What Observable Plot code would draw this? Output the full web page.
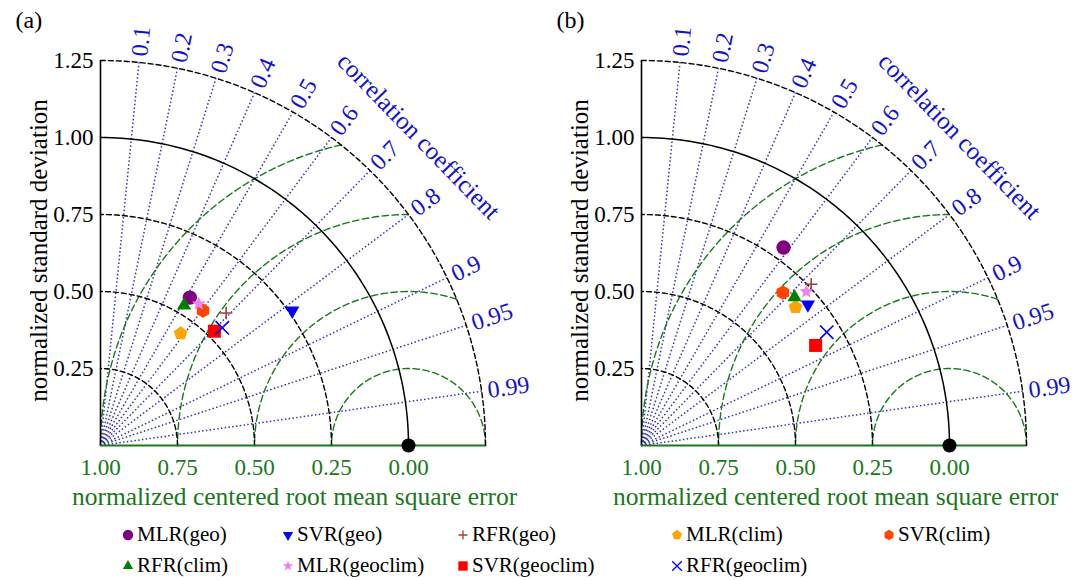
<!DOCTYPE html>
<html><head><meta charset="utf-8">
<script src="https://cdn.jsdelivr.net/npm/d3@7"></script>
<script src="https://cdn.jsdelivr.net/npm/@observablehq/plot@0.6"></script>
<style>
body{margin:0;background:#fff;width:1079px;height:580px;overflow:hidden;font-family:"Liberation Serif","Times New Roman",Times,"DejaVu Serif",serif;}
#panels{display:flex;}
#legend{display:grid;grid-template-columns:121px 160px 175px 214px 212px auto;grid-auto-rows:31px;padding-top:7px;font-size:21px;}
#legend div{display:flex;align-items:center;white-space:nowrap;}
#legend svg{margin-right:2px;}
svg text{font-family:"Liberation Serif","Times New Roman",Times,"DejaVu Serif",serif;}
</style></head><body>
<div id="panels"></div><div id="legend"></div>
<script>
// ---- data ----
const models = ["MLR(geo)","SVR(geo)","RFR(geo)","MLR(clim)","SVR(clim)","RFR(clim)","MLR(geoclim)","SVR(geoclim)","RFR(geoclim)"];
const stdA  = [0.561, 0.761, 0.593, 0.447, 0.550, 0.530, 0.560, 0.524, 0.550];
const corrA = [0.517, 0.818, 0.688, 0.582, 0.605, 0.512, 0.570, 0.706, 0.719];
const stdB  = [0.791, 0.708, 0.760, 0.672, 0.676, 0.692, 0.732, 0.652, 0.705];
const corrB = [0.583, 0.763, 0.725, 0.744, 0.679, 0.718, 0.731, 0.867, 0.853];
const stdTicks = [0.25, 0.50, 0.75, 1.00, 1.25];
const rmsLevels = [0.25, 0.50, 0.75, 1.00];
const rmsTickPos = [0, 0.25, 0.5, 0.75, 1.0];
const corrTicks = [0.1,0.2,0.3,0.4,0.5,0.6,0.7,0.8,0.9,0.95,0.99];

// ---- symbols ----
function poly(n, rot){ return {draw(ctx,size){const R=Math.sqrt(size/Math.PI); for(let i=0;i<n;i++){const a=rot+i*2*Math.PI/n; const x=R*Math.cos(a), y=R*Math.sin(a); if(i) ctx.lineTo(x,y); else ctx.moveTo(x,y);} ctx.closePath();}}; }
const S = {
  circle:{draw(ctx,size){const R=Math.sqrt(size/Math.PI); ctx.moveTo(R,0); ctx.arc(0,0,R,0,2*Math.PI);}},
  triUp: poly(3,-Math.PI/2),
  triDown: poly(3,Math.PI/2),
  pentagon: poly(5,-Math.PI/2),
  hexagon: poly(6,-Math.PI/2),
  square: poly(4,Math.PI/4),
  star:{draw(ctx,size){const R=Math.sqrt(size/Math.PI), r=R*0.45; for(let i=0;i<10;i++){const a=-Math.PI/2+i*Math.PI/5, rr=i%2?r:R; const x=rr*Math.cos(a), y=rr*Math.sin(a); if(i) ctx.lineTo(x,y); else ctx.moveTo(x,y);} ctx.closePath();}},
  plus:{draw(ctx,size){const R=Math.sqrt(size/Math.PI); ctx.moveTo(-R,0);ctx.lineTo(R,0);ctx.moveTo(0,-R);ctx.lineTo(0,R);}},
  times:{draw(ctx,size){const R=Math.sqrt(size/Math.PI); ctx.moveTo(-R,-R);ctx.lineTo(R,R);ctx.moveTo(-R,R);ctx.lineTo(R,-R);}}
};
const styles = [
  {sym:S.circle, r:7.2, color:"#800080", fill:true},
  {sym:S.triDown, r:8.2, color:"#0000ff", fill:true},
  {sym:S.plus, r:6.2, color:"#a0403a", fill:false},
  {sym:S.pentagon, r:7.2, color:"#ffa500", fill:true},
  {sym:S.hexagon, r:7.2, color:"#ff4500", fill:true},
  {sym:S.triUp, r:8.2, color:"#008000", fill:true},
  {sym:S.star, r:7.2, color:"#ee82ee", fill:true},
  {sym:S.square, r:9.2, color:"#ff0000", fill:true},
  {sym:S.times, r:6.7, color:"#0000ff", fill:false}
];

const FONT = '"Liberation Serif", "Times New Roman", Times, "DejaVu Serif", serif';
const GREEN = "#1a781a", BLUE = "#1212cc", DOTBLUE = "#3434b0";
const rad = Math.PI/180;

// grid geometry
const stdArcs = stdTicks.flatMap(s => d3.range(0, 90.5, 1).map(a => ({s, x:s*Math.cos(a*rad), y:s*Math.sin(a*rad)})));
const rmsArcs = rmsLevels.flatMap(r => {
  const c0 = Math.max(-1, Math.min(1, (1.5625 - 1 - r*r)/(2*r)));
  const t0 = Math.acos(c0);
  return d3.range(0, 201).map(k => { const t = t0 + (Math.PI - t0)*k/200; return {r, x:1 + r*Math.cos(t), y:r*Math.sin(t)}; });
});

function panel(label, std, corr, width){
  const pts = models.map((m,i)=>({m, i, x:std[i]*corr[i], y:std[i]*Math.sqrt(1-corr[i]*corr[i])}));
  const dotMarks = styles.map((st,i)=>Plot.dot(pts.filter(d=>d.i===i), {x:"x", y:"y", r:st.r, symbol:st.sym,
     fill: st.fill ? st.color : "none", stroke: st.color, strokeWidth: st.fill ? 0 : 1.6}));
  const ca = 44.2;
  return Plot.plot({
    width, height: 512, margin: 0,
    x:{domain:[0,1.25], range:[100,485], axis:null},
    y:{domain:[0,1.25], range:[445,60], axis:null},
    style:{fontFamily:FONT, background:"white", overflow:"visible"},
    marks:[
      Plot.link(corrTicks, {x1:0, y1:0, x2:c=>1.25*c, y2:c=>1.25*Math.sqrt(1-c*c), stroke:DOTBLUE, strokeWidth:1.5, strokeDasharray:"1.5,2.3"}),
      Plot.line(rmsArcs, {x:"x", y:"y", z:"r", stroke:GREEN, strokeWidth:1.4, strokeDasharray:"6.5,3.5"}),
      Plot.line(stdArcs.filter(d=>d.s!==1), {x:"x", y:"y", z:"s", stroke:"black", strokeWidth:1.4, strokeDasharray:"5,3"}),
      Plot.line(stdArcs.filter(d=>d.s===1), {x:"x", y:"y", stroke:"black", strokeWidth:1.5}),
      Plot.ruleX([0], {y1:0, y2:1.25, stroke:"black", strokeWidth:1.6}),
      Plot.ruleY([0], {x1:0, x2:1.25, stroke:GREEN, strokeWidth:1.8}),
      Plot.dot([1], {x:d=>d, y:0, r:7, fill:"black"}),
      Plot.text(stdTicks, {x:0, y:d=>d, text:d=>d.toFixed(2), textAnchor:"end", dx:-7, fontSize:23, fill:"black"}),
      Plot.text(rmsTickPos, {x:d=>d, y:0, text:d=>(1-d).toFixed(2), dy:22, fontSize:23, fill:GREEN}),
      Plot.text(corrTicks, {x:c=>1.27*c, y:c=>1.27*Math.sqrt(1-c*c), text:c=>String(c), rotate:c=>-Math.acos(c)/rad, textAnchor:"start", fontSize:24, fill:BLUE}),
      Plot.text(["correlation coefficient"], {x:1.44*Math.cos(ca*rad), y:1.44*Math.sin(ca*rad), rotate:90-ca, textAnchor:"middle", fontSize:25, fill:BLUE}),
      Plot.text(["normalized standard deviation"], {frameAnchor:"left", dx:38, dy:-6, rotate:-90, textAnchor:"middle", fontSize:25, fill:"black"}),
      Plot.text(["normalized centered root mean square error"], {x:0.63, y:0, dy:51, textAnchor:"middle", fontSize:25.5, fill:GREEN}),
      Plot.text([label], {frameAnchor:"top-left", dx:15, dy:10, textAnchor:"start", lineAnchor:"top", fontSize:24, fill:"black"}),
      ...dotMarks
    ]
  });
}

const panels = document.getElementById("panels");
panels.appendChild(panel("(a)", stdA, corrA, 541));
panels.appendChild(panel("(b)", stdB, corrB, 538));

// legend
const legend = d3.select("#legend");
models.forEach((m,i)=>{
  const st = styles[i];
  const item = legend.append("div").style("grid-column", String((i%5)+2)).style("grid-row", String(Math.floor(i/5)+1));
  const svg = item.append("svg").attr("width",14).attr("height",16);
  const p = d3.path(); st.sym.draw(p, Math.PI*Math.pow(st.r*0.72,2));
  svg.append("path").attr("transform","translate(7,8)").attr("d", p.toString())
    .attr("fill", st.fill ? st.color : "none").attr("stroke", st.fill ? "none" : st.color).attr("stroke-width",1.3);
  item.append("span").text(m);
});
</script></body></html>
